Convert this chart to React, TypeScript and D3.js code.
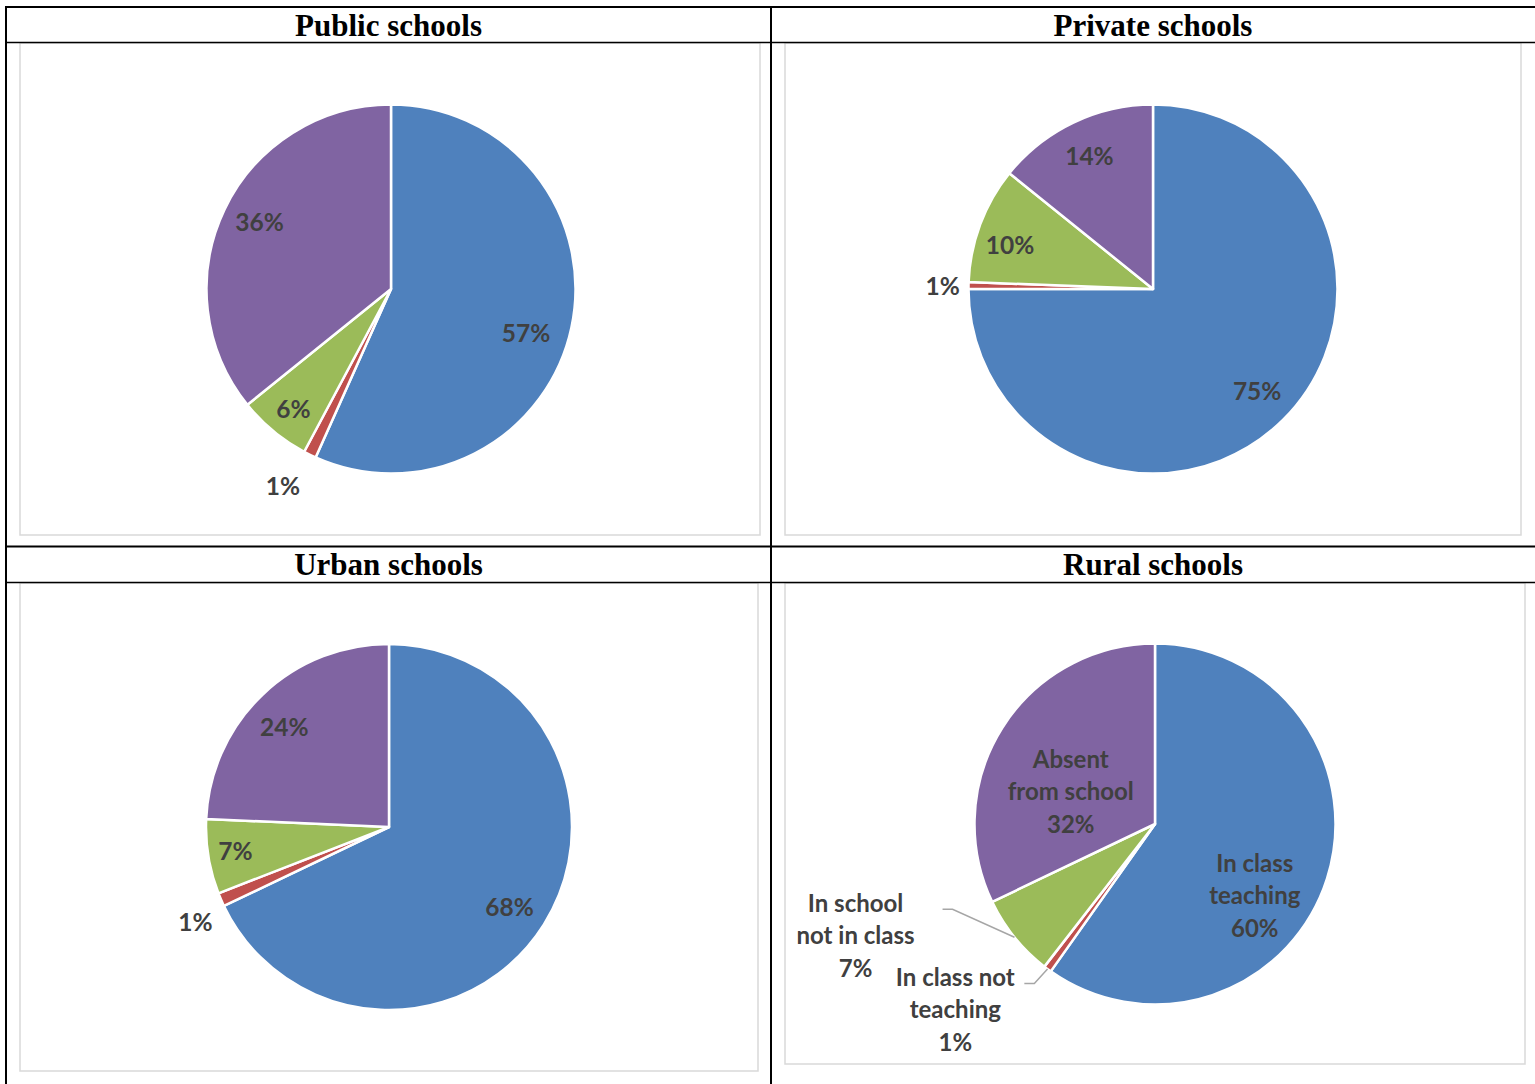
import React from "react";
import * as d3 from "d3";

// ---- data ----
const categories = ["In class teaching", "In class not teaching", "In school not in class", "Absent from school"];
const titles = ["Public schools", "Private schools", "Urban schools", "Rural schools"];
const publicValues = [56.7, 1.1, 6.4, 35.8];
const privateValues = [75.0, 0.6, 10.2, 14.2];
const urbanValues = [67.9, 1.2, 6.6, 24.3];
const ruralValues = [59.8, 0.7, 7.4, 32.1];
const ruralLabelLines = [["In class", "teaching"], ["In class not", "teaching"], ["In school", "not in class"], ["Absent", "from school"]];
const colors = ["#4F81BD", "#C0504D", "#9BBB59", "#8064A2"];

// ---- layout ----
const W = 1535, H = 1084;
// label placement: polar angle (degrees clockwise from 12 o'clock) and radius factor
const publicPlacement = [{ a: 108, f: 0.77 }, { a: 208.7, f: 1.22 }, { a: 219, f: 0.84 }, { a: 297, f: 0.8 }];
const privatePlacement = [{ a: 134.4, f: 0.79 }, { a: 270.8, f: 1.14 }, { a: 287, f: 0.81 }, { a: 334.5, f: 0.8 }];
const urbanPlacement = [{ a: 123.5, f: 0.79 }, { a: 243.7, f: 1.18 }, { a: 261, f: 0.85 }, { a: 313.6, f: 0.79 }];
const ruralPlacement = [
  { a: 125.6, f: 0.68, leader: 0 },
  { a: 227.1, f: 1.51, leader: 69 },
  { a: 249.6, f: 1.77, leader: 87 },
  { a: 291, f: 0.5, leader: 0 },
];
const panels = [
  { title: titles[0], values: publicValues, place: publicPlacement, tx: 388.5, ty: 36, box: [20, 43, 760, 535], cx: 391, cy: 289, r: 184.5, named: false },
  { title: titles[1], values: privateValues, place: privatePlacement, tx: 1153, ty: 36, box: [785, 43, 1521, 535], cx: 1153, cy: 289, r: 184.5, named: false },
  { title: titles[2], values: urbanValues, place: urbanPlacement, tx: 388.5, ty: 575, box: [20, 583, 758, 1071], cx: 389, cy: 827, r: 183, named: false },
  { title: titles[3], values: ruralValues, place: ruralPlacement, tx: 1153, ty: 575, box: [785, 583, 1525, 1064], cx: 1155, cy: 824, r: 180.5, named: true },
];

const LABEL_FONT = "Lato, 'Open Sans', sans-serif";
const TEXT = "#404040";

function polar(cx: number, cy: number, angDeg: number, rad: number) {
  const a = (angDeg * Math.PI) / 180;
  return [cx + Math.sin(a) * rad, cy - Math.cos(a) * rad];
}

function Pie({ p }: { p: any }) {
  const pie = d3.pie<number>().sort(null).value((d) => d).startAngle(0).endAngle(2 * Math.PI);
  const arcs = pie(p.values);
  const arc = d3.arc<d3.PieArcDatum<number>>().innerRadius(0).outerRadius(p.r);
  const total = d3.sum(p.values);
  return (
    <g>
      <rect x={p.box[0]} y={p.box[1]} width={p.box[2] - p.box[0]} height={p.box[3] - p.box[1]} fill="#fff" stroke="#d9d9d9" strokeWidth={1.5} />
      <g transform={`translate(${p.cx},${p.cy})`}>
        {arcs.map((a, i) => (
          <path key={i} d={arc(a) || ""} fill={colors[i]} stroke="#fff" strokeWidth={2.5} strokeLinejoin="round" />
        ))}
      </g>
      {arcs.map((a, i) => {
        const pct = Math.round((a.data / total) * 100) + "%";
        const midDeg = (((a.startAngle + a.endAngle) / 2) * 180) / Math.PI;
        const pl = p.place[i];
        const [x, y] = polar(p.cx, p.cy, pl.a, p.r * pl.f);
        if (!p.named) {
          return (
            <text key={i} x={x} y={y} dy="0.36em" textAnchor="middle" fontFamily={LABEL_FONT} fontWeight={700} fontSize={24.5} fill={TEXT}>
              {pct}
            </text>
          );
        }
        const lines = [...ruralLabelLines[i], pct];
        const offs = [-32, 0, 33];
        let leader = null;
        if (pl.leader) {
          const [ex, ey] = polar(p.cx, p.cy, midDeg, p.r);
          const sx = x + pl.leader, sy = y - 26;
          leader = <polyline points={`${sx},${sy} ${sx + 10},${sy} ${ex},${ey}`} fill="none" stroke="#a6a6a6" strokeWidth={1.5} />;
        }
        return (
          <g key={i}>
            {leader}
            {lines.map((t, j) => (
              <text key={j} x={x} y={y + offs[j]} dy="0.36em" textAnchor="middle" fontFamily={LABEL_FONT} fontWeight={700} fontSize={24} fill={TEXT}>
                {t}
              </text>
            ))}
          </g>
        );
      })}
      <text x={p.tx} y={p.ty} textAnchor="middle" fontFamily="'Liberation Serif', 'Times New Roman', serif" fontWeight={700} fontSize={31} fill="#000">
        {p.title}
      </text>
    </g>
  );
}

export default function App() {
  return (
    <svg width={W} height={H} style={{ position: "absolute", left: 0, top: 0, background: "#fff" }} xmlns="http://www.w3.org/2000/svg">
      <rect x={0} y={0} width={W} height={H} fill="#fff" />
      <title>{categories.join(", ")}</title>
      {panels.map((p, i) => (
        <Pie key={i} p={p} />
      ))}
      {/* table grid */}
      <g stroke="#000" fill="none">
        <line x1={5} y1={7} x2={W} y2={7} strokeWidth={2} />
        <line x1={6} y1={6} x2={6} y2={H} strokeWidth={2} />
        <line x1={771} y1={6} x2={771} y2={H} strokeWidth={2} />
        <line x1={6} y1={42.5} x2={W} y2={42.5} strokeWidth={1.5} />
        <line x1={6} y1={546.5} x2={W} y2={546.5} strokeWidth={2} />
        <line x1={6} y1={582.5} x2={W} y2={582.5} strokeWidth={1.5} />
      </g>
    </svg>
  );
}
